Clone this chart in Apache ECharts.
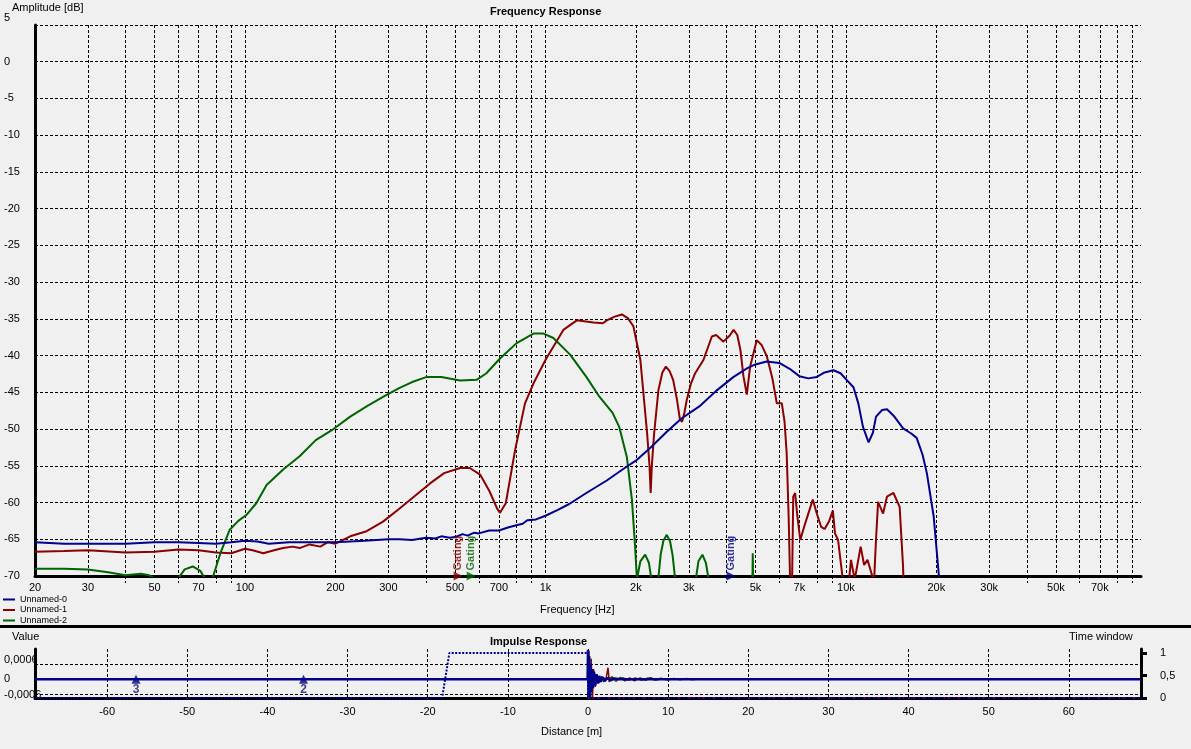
<!DOCTYPE html>
<html><head><meta charset="utf-8">
<script src="https://cdn.jsdelivr.net/npm/echarts@6/dist/echarts.min.js"></script>
<style>html,body{margin:0;padding:0;background:#f0f0f0}#c{width:1191px;height:749px}</style>
</head><body><div id="c"></div>
<script>
// ---------- data ----------
const seriesNames = ['Unnamed-0', 'Unnamed-1', 'Unnamed-2'];
const freqGrid = [30,40,50,60,70,80,90,100,200,300,400,500,600,700,800,900,1000,2000,3000,4000,5000,6000,7000,8000,9000,10000,20000,30000,40000,50000,60000,70000,80000,90000];
const freqLabelTicks = [20,30,50,70,100,200,300,500,700,1000,2000,3000,5000,7000,10000,20000,30000,50000,70000];

const freq0 = [20,25,40,50,60,70,80,90,100,110,120,140,170,200,250,300,327,360,400,430,450,480,500,530,550,580,600,650,700,750,800,840,870,930,1000,1100,1200,1368,1600,1866,2000,2240,2530,2830,3280,3700,4230,4700,5000,5450,6000,6500,7000,7500,8000,8500,9090,9600,10000,10600,11000,11400,11900,12300,12600,13200,13700,14500,15500,16500,17200,18000,18600,19600,20400,21000];
const db0   = [-65.4,-65.6,-65.6,-65.4,-65.4,-65.5,-65.6,-65.4,-65.2,-65.3,-65.6,-65.4,-65.4,-65.4,-65.2,-65.0,-65.0,-65.1,-64.8,-64.9,-64.6,-64.8,-64.7,-64.3,-64.5,-64.1,-64.2,-63.8,-63.8,-63.4,-63.1,-62.9,-62.4,-62.3,-61.8,-61.0,-60.2,-58.7,-57.0,-55.1,-54.3,-52.5,-50.4,-48.6,-46.8,-44.8,-42.9,-41.7,-41.2,-40.8,-41.0,-41.8,-42.8,-43.1,-42.9,-42.3,-42.0,-42.4,-43.2,-44.3,-46.5,-49.7,-51.8,-50.5,-48.3,-47.4,-47.3,-48.3,-49.9,-50.6,-51.2,-53.5,-56.0,-61.9,-70.0,-76];

const freq1 = [20,25,30,40,50,60,70,80,90,100,106,115,125,134,144,152,164,178,189,200,224,254,288,327,370,413,460,520,560,606,652,690,706,738,793,855,912,1000,1147,1272,1445,1553,1600,1700,1796,1880,1962,2070,2180,2220,2240,2260,2300,2377,2450,2516,2590,2661,2740,2803,2850,2900,2955,3050,3150,3356,3580,3700,3913,4100,4230,4350,4455,4560,4680,4800,5050,5250,5456,5700,5890,6120,6250,6353,6450,6520,6600,6680,6777,6900,7050,7300,7760,8000,8270,8500,8800,9050,9200,9420,9650,9800,10000,10400,10700,11200,11500,11800,12200,12400,12600,12800,13300,13700,14400,15100,15500,15650,20000];
const db1   = [-66.7,-66.6,-66.5,-66.8,-66.7,-66.4,-66.5,-66.8,-66.9,-66.3,-66.5,-66.9,-66.5,-66.2,-66.0,-66.2,-65.7,-66.0,-65.4,-65.6,-64.6,-63.9,-62.6,-60.8,-59.0,-57.4,-56.0,-55.3,-55.3,-56.2,-58.5,-60.8,-61.4,-60.1,-52.8,-46.5,-43.8,-40.6,-36.5,-35.2,-35.5,-35.6,-35.2,-34.7,-34.4,-34.9,-36.0,-40.6,-50.6,-55.0,-58.7,-55.0,-50.6,-44.7,-42.3,-41.5,-42.1,-43.3,-46.0,-48.7,-49.0,-47.8,-46.0,-43.8,-42.4,-40.6,-37.4,-37.2,-38.1,-37.3,-36.5,-37.2,-39.2,-42.8,-45.3,-41.5,-37.9,-38.6,-40.1,-43.2,-46.5,-46.5,-49.0,-53.3,-62.0,-70.5,-75,-59.2,-58.7,-62.0,-65.1,-63.0,-59.6,-61.5,-63.3,-63.6,-62.5,-61.1,-64.2,-65.1,-68.7,-71,-75,-67.8,-70.5,-66.0,-68.5,-67.8,-69.8,-71,-65.0,-59.9,-61.5,-59.2,-58.7,-60.6,-68.7,-75,-75];

const freq2 = [20,25,30,35,40,45,48,51,55,60,63,67,71,74,76,78.4,82.8,89,95,101,109,118,134,152,172,197,224,254,289,327,360,403,450,520,590,636,706,802,912,985,1063,1210,1368,1512,1673,1760,1866,1940,1988,2015,2030,2070,2147,2210,2250,2300,2350,2377,2420,2470,2534,2600,2650,2701,2760,3120,3172,3230,3330,3420,3487,3550,4870,4898,4930,20000];
const db2   = [-69.0,-69.0,-69.1,-69.5,-69.9,-69.7,-69.9,-70.5,-75,-70.3,-69.1,-68.7,-69.3,-70.5,-72,-70.0,-66.9,-63.7,-62.5,-61.7,-60.1,-57.6,-55.5,-53.7,-51.5,-50.0,-48.3,-46.9,-45.6,-44.4,-43.6,-42.9,-42.9,-43.4,-43.3,-42.4,-40.4,-38.3,-37.0,-37.0,-37.6,-39.9,-42.9,-45.6,-47.8,-49.7,-53.8,-59.6,-66.0,-70.3,-69.8,-68.0,-67.1,-68.2,-70.3,-75,-75,-70.2,-67.0,-65.2,-64.4,-65.3,-67.2,-70.3,-75,-75,-70.2,-68.0,-67.1,-68.2,-70.3,-75,-75,-66.9,-75,-75];

// gating markers (frequency of each series' gate)
const gateFreq = [4150, 512, 566];

// impulse response
const distTicks = [-60,-50,-40,-30,-20,-10,0,10,20,30,40,50,60];
const valueTicks = [-0.0006, 0, 0.0006];
const windowTicks = [0, 0.5, 1];

const impDist0 = [-69,-0.05,0,0.08,0.16,0.24,0.32,0.4,0.5,0.62,0.75,0.9,1.05,1.2,1.4,1.6,1.85,2.1,2.4,2.8,3.3,4,69];
const impVal0  = [0,0,0.00115,-0.0009,0.0009,-0.0007,0.0006,-0.0005,0.0004,-0.00035,0.0003,-0.00025,0.0002,-0.00016,0.00013,-0.0001,0.00008,-0.00007,0.00005,-0.00004,0.00003,0,0];
const impDist1 = [-0.05,0.12,0.25,0.4,0.55,0.7,0.9,1.1,1.4,1.7,2.0,2.3,2.5,2.65,3.0,3.5,4.0,4.6,5.2,5.8,6.5,7.2,7.8,8.5,9.2,10];
const impVal1  = [0,0.0011,-0.0008,0.0008,-0.0008,0.0004,-0.0003,0.0002,-0.00015,0.00012,-0.0001,0.0001,0.00045,-0.0001,0.0001,-0.00008,0.00007,-0.00006,0.00005,-0.00006,0.00005,-0.00004,0.00006,-0.00003,0.00002,0];
const impDist2 = [2,2.8,3.5,4.3,5.1,5.9,6.7,7.5,8.3,9.1,9.9,10.7,11.5,12.3,13,13.5];
const impVal2  = [0,0.00007,-0.00005,0.00006,-0.00004,0.00005,-0.00004,0.00005,-0.00003,0.00004,-0.00003,0.00003,-0.00002,0.00003,-0.00002,0];
const markerDist = [-56.4, -35.5];
const markerText = ['3', '2'];

const winDist0 = [-69,-18.2,-17.3,0,0,69];
const winVal0  = [0,0,1,1,0,0];
const winDist1 = [0,69];
const winVal1  = [0,0];

// ---------- chart ----------
const colors = ['#00008B', '#8B0000', '#006400'];
const L = Math.log10;
const fmtK = v => { const f = Math.round(Math.pow(10, v)); return f >= 1000 ? (f / 1000) + 'k' : String(f); };
const comma = v => String(v).replace('.', ',');
const dash = {color: '#000', type: [3, 2], width: 1};
const font = 'Liberation Sans, Arial, sans-serif';

const toPts = (xs, ys, tx) => xs.map((x, i) => [tx ? tx(x) : x, ys[i]]);
const freqSeries = [[freq0, db0], [freq1, db1], [freq2, db2]];
const freqOrder = [1, 2, 0];

const series = [];
freqOrder.forEach(i => {
  series.push({
    name: seriesNames[i], type: 'line', xAxisIndex: 0, yAxisIndex: 0,
    data: toPts(freqSeries[i][0], freqSeries[i][1], L),
    showSymbol: false, symbol: 'none', clip: true,
    lineStyle: {color: colors[i], width: 2}, itemStyle: {color: colors[i]}, z: 3
  });
});
gateFreq.forEach((f, i) => {
  series.push({
    name: seriesNames[i], type: 'scatter', xAxisIndex: 0, yAxisIndex: 0,
    data: [[L(f), -70]], symbol: 'triangle', symbolSize: 9, symbolRotate: -90,
    itemStyle: {color: colors[i]}, clip: false, z: 5,
    label: {show: true, formatter: 'Gating', position: 'top', align: 'left', verticalAlign: 'middle',
            rotate: 90, distance: 1, color: colors[i], fontSize: 11, fontWeight: 'bold', fontFamily: font}
  });
});
// impulse
[[impDist1, impVal1, 1], [impDist2, impVal2, 2], [impDist0, impVal0, 0]].forEach(([d, v, i]) => {
  series.push({
    name: seriesNames[i], type: 'line', xAxisIndex: 2, yAxisIndex: 1,
    data: toPts(d, v), showSymbol: false, symbol: 'none', clip: true,
    lineStyle: {color: colors[i], width: i === 0 ? 2.5 : 1.5}, itemStyle: {color: colors[i]}, z: 3
  });
});
series.push({
  name: seriesNames[1], type: 'line', xAxisIndex: 2, yAxisIndex: 2, data: toPts(winDist1, winVal1),
  showSymbol: false, symbol: 'none', clip: false,
  lineStyle: {color: colors[1], width: 2, type: [2, 3]}, itemStyle: {color: colors[1]}, z: 4
});
series.push({
  name: seriesNames[0], type: 'line', xAxisIndex: 2, yAxisIndex: 2, data: toPts(winDist0, winVal0),
  showSymbol: false, symbol: 'none', clip: false,
  lineStyle: {color: colors[0], width: 2, type: [2, 1.5]}, itemStyle: {color: colors[0]}, z: 4
});
series.push({
  name: seriesNames[0], type: 'scatter', xAxisIndex: 2, yAxisIndex: 1,
  data: markerDist.map((d, i) => ({value: [d, 0], label: {formatter: markerText[i]}})),
  symbol: 'triangle', symbolSize: 9, itemStyle: {color: '#00008B'}, z: 6,
  label: {show: true, position: 'bottom', distance: 0, color: '#1a1060', fontSize: 12, fontWeight: 'bold', fontFamily: font}
});

const titleStyle = (bold) => ({fontSize: 11, fontWeight: bold ? 'bold' : 'normal', color: '#000', fontFamily: font});
const option = {
  animation: false,
  backgroundColor: '#f0f0f0',
  textStyle: {fontFamily: font, color: '#000'},
  title: [
    {text: 'Frequency Response', left: 490, top: 6, padding: 0, textStyle: titleStyle(true)},
    {text: 'Amplitude [dB]', left: 12, top: 2, padding: 0, textStyle: titleStyle(false)},
    {text: 'Frequency [Hz]', left: 540, top: 604, padding: 0, textStyle: titleStyle(false)},
    {text: 'Impulse Response', left: 490, top: 636, padding: 0, textStyle: titleStyle(true)},
    {text: 'Value', left: 12, top: 631, padding: 0, textStyle: titleStyle(false)},
    {text: 'Time window', left: 1069, top: 631, padding: 0, textStyle: titleStyle(false)},
    {text: 'Distance [m]', left: 541, top: 726, padding: 0, textStyle: titleStyle(false)}
  ],
  legend: {
    orient: 'vertical', left: 3, top: 595, padding: 0, itemGap: 1.5, itemWidth: 12, itemHeight: 2,
    icon: 'rect', data: seriesNames,
    textStyle: {fontSize: 9, lineHeight: 9, color: '#000', fontFamily: font}
  },
  graphic: [{type: 'rect', shape: {x: 0, y: 625, width: 1191, height: 3}, style: {fill: '#000'}, silent: true}],
  grid: [
    {left: 35, top: 25, width: 1106, height: 551},
    {left: 35, top: 649, width: 1106, height: 49}
  ],
  xAxis: [
    {type: 'value', gridIndex: 0, min: L(20), max: L(96000), position: 'bottom',
     axisLine: {show: true, onZero: false, lineStyle: {color: '#000', width: 3}},
     axisTick: {show: false, customValues: freqGrid.map(L)},
     axisLabel: {customValues: freqLabelTicks.map(L), formatter: fmtK, color: '#000', fontSize: 11, margin: 6},
     splitLine: {show: true, lineStyle: dash}},
    {type: 'value', gridIndex: 0, min: L(20), max: L(96000), position: 'bottom',
     axisLine: {show: false, onZero: false},
     axisTick: {show: true, length: 7, customValues: freqGrid.filter(f => freqLabelTicks.indexOf(f) < 0).map(L), lineStyle: dash},
     axisLabel: {show: false}, splitLine: {show: false}},
    {type: 'value', gridIndex: 1, min: -69, max: 69, position: 'bottom',
     axisLine: {show: true, onZero: false, lineStyle: {color: '#000', width: 3}},
     axisTick: {show: false, customValues: distTicks},
     axisLabel: {customValues: distTicks, color: '#000', fontSize: 11, margin: 8},
     splitLine: {show: true, lineStyle: dash}}
  ],
  yAxis: [
    {type: 'value', gridIndex: 0, min: -70, max: 5, interval: 5,
     axisLine: {show: true, onZero: false, lineStyle: {color: '#000', width: 3}},
     axisTick: {show: false},
     axisLabel: {color: '#000', fontSize: 11, align: 'left', margin: 31,
                 formatter: v => v === 5 ? '{t|5}' : String(v), rich: {t: {fontSize: 11, padding: [0, 0, 15, 0]}}},
     splitLine: {show: true, lineStyle: dash}},
    {type: 'value', gridIndex: 1, min: -0.00073, max: 0.00118,
     axisLine: {show: true, onZero: false, lineStyle: {color: '#000', width: 3}},
     axisTick: {show: false, customValues: valueTicks},
     axisLabel: {customValues: valueTicks, color: '#000', fontSize: 11, align: 'left', margin: 31,
                 formatter: v => v > 0 ? '{t|' + comma(v) + '}' : comma(v), rich: {t: {fontSize: 11, padding: [0, 0, 8, 0]}}},
     splitLine: {show: true, lineStyle: dash}},
    {type: 'value', gridIndex: 1, min: 0, max: 1.09, position: 'right',
     axisLine: {show: true, onZero: false, lineStyle: {color: '#000', width: 3}},
     axisTick: {show: true, length: 6, customValues: windowTicks, lineStyle: {color: '#000', width: 3}},
     axisLabel: {customValues: windowTicks, formatter: comma, color: '#000', fontSize: 11, margin: 19},
     splitLine: {show: false}}
  ],
  series: series
};
const chart = echarts.init(document.getElementById('c'), null, {renderer: 'canvas'});
chart.setOption(option);
</script></body></html>
